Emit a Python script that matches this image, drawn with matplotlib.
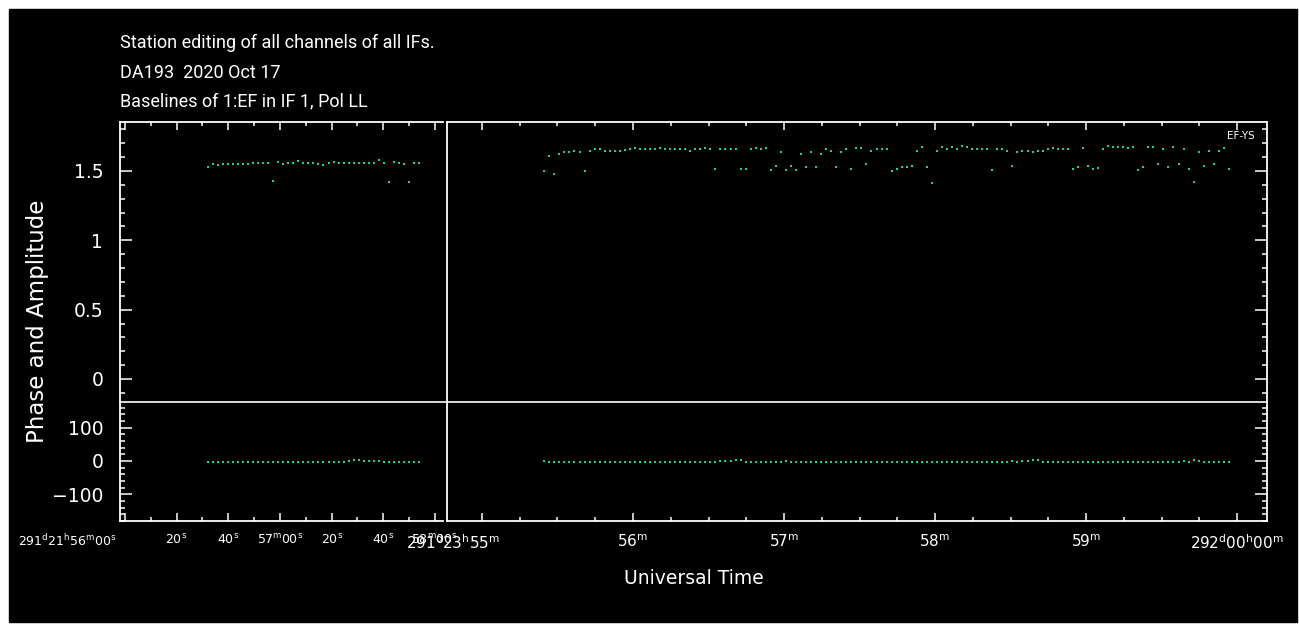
import numpy as np
import matplotlib
matplotlib.use('Agg')
import matplotlib.pyplot as plt
from matplotlib.ticker import MultipleLocator, FuncFormatter
from matplotlib.transforms import ScaledTranslation
from matplotlib.patches import Rectangle
from matplotlib.lines import Line2D

plt.rcParams['mathtext.fontset'] = 'dejavusans'

# scan 1: seconds after 291d 21h56m00s, scan 2: seconds after 291d 23h55m00s
t0_left, dt_left = 32.0, 1.95
t0_right, dt_right = 24.75, 2.0

amp_left = [1.53, 1.55, 1.545, 1.55, 1.55, 1.55, 1.55, 1.55, 1.55, 1.555,
            1.56, 1.56, 1.56, 1.43, 1.565, 1.55, 1.555, 1.56, 1.57, 1.56,
            1.56, 1.56, 1.55, 1.545, 1.555, 1.565, 1.555, 1.56, 1.56, 1.56,
            1.56, 1.56, 1.555, 1.56, 1.58, 1.56, 1.42, 1.565, 1.56, 1.55,
            1.42, 1.56, 1.56]
phase_left = [-4, -4, -3, -3, -3, -3, -3, -2, -2, -2,
              -2, -2, -2, -2, -2, -2, -2, -2, -2, -3,
              -3, -3, -4, -4, -4, -3, -2, -2, -1, 3,
              2, 1, 1, 1, 0, -2, -3, -3, -3, -3,
              -4, -4, -4]

amp_right = [1.50, 1.61, 1.478, 1.622, 1.634, 1.634, 1.646, 1.64, 1.50, 1.646,
             1.656, 1.656, 1.646, 1.646, 1.646, 1.646, 1.65, 1.656, 1.668, 1.656,
             1.656, 1.656, 1.656, 1.668, 1.656, 1.656, 1.656, 1.656, 1.656, 1.646,
             1.656, 1.656, 1.668, 1.66, 1.514, 1.656, 1.656, 1.656, 1.656, 1.514,
             1.514, 1.656, 1.668, 1.656, 1.665, 1.51, 1.538, 1.634, 1.51, 1.538,
             1.51, 1.622, 1.526, 1.634, 1.531, 1.622, 1.658, 1.646, 1.526, 1.634,
             1.658, 1.514, 1.668, 1.668, 1.55, 1.646, 1.658, 1.658, 1.658, 1.502,
             1.514, 1.526, 1.526, 1.538, 1.646, 1.67, 1.526, 1.414, 1.646, 1.67,
             1.658, 1.67, 1.658, 1.682, 1.67, 1.658, 1.658, 1.658, 1.658, 1.51,
             1.658, 1.658, 1.646, 1.538, 1.634, 1.646, 1.646, 1.64, 1.646, 1.646,
             1.656, 1.668, 1.66, 1.656, 1.656, 1.514, 1.526, 1.668, 1.538, 1.514,
             1.519, 1.656, 1.682, 1.67, 1.67, 1.675, 1.663, 1.67, 1.507, 1.526,
             1.67, 1.67, 1.55, 1.658, 1.526, 1.67, 1.55, 1.658, 1.514, 1.418,
             1.634, 1.538, 1.643, 1.55, 1.643, 1.663, 1.514]
phase_right = [-1, -2, -2, -2, -2, -3, -3, -3, -3, -3,
               -3, -2, -2, -2, -2, -2, -2, -2, -2, -2,
               -2, -2, -2, -2, -2, -2, -2, -2, -2, -3,
               -3, -3, -3, -2, -2, -1, 0, -1, 3, 4,
               -2, -2, -2, -2, -2, -2, -2, -2, -1, -2,
               -2, -2, -2, -2, -2, -2, -2, -2, -2, -2,
               -3, -3, -3, -3, -3, -3, -2, -2, -2, -2,
               -2, -2, -4, -3, -3, -2, -2, -2, -3, -3,
               -3, -3, -3, -3, -2, -2, -2, -2, -2, -2,
               -2, -2, -2, -1, -2, -1, 1, 4, 4, -2,
               -2, -2, -2, -2, -2, -2, -2, -2, -2, -2,
               -3, -3, -3, -2, -2, -3, -3, -3, -3, -2,
               -2, -2, -2, -2, -2, -2, -2, -1, -2, 4,
               -1, -2, -3, -3, -3, -3, -3]

t_left = t0_left + dt_left * np.arange(len(amp_left))
t_right = t0_right + dt_right * np.arange(len(amp_right))

ticks_left = [0, 20, 40, 60, 80, 100, 120]
labels_left = [r'291$^{\mathrm{d}}$21$^{\mathrm{h}}$56$^{\mathrm{m}}$00$^{\mathrm{s}}$',
               r'20$^{\mathrm{s}}$', r'40$^{\mathrm{s}}$',
               r'57$^{\mathrm{m}}$00$^{\mathrm{s}}$',
               r'20$^{\mathrm{s}}$', r'40$^{\mathrm{s}}$',
               r'58$^{\mathrm{m}}$00$^{\mathrm{s}}$']
ticks_right = [0, 60, 120, 180, 240, 300]
labels_right = [r'291$^{\mathrm{d}}$23$^{\mathrm{h}}$55$^{\mathrm{m}}$',
                r'56$^{\mathrm{m}}$', r'57$^{\mathrm{m}}$', r'58$^{\mathrm{m}}$',
                r'59$^{\mathrm{m}}$',
                r'292$^{\mathrm{d}}$00$^{\mathrm{h}}$00$^{\mathrm{m}}$']

GREEN = '#1fd18c'
TITLE_FONT = ['Roboto', 'DejaVu Sans']
W, H = 1299, 627


def rect(x0, y0, x1, y1):
    return [x0 / W, 1 - y1 / H, (x1 - x0) / W, (y1 - y0) / H]


fig = plt.figure(figsize=(W / 100, H / 100), dpi=100, facecolor='white')
fig.add_artist(Rectangle((9 / W, 1 - 622 / H), (1297 - 9) / W, (622 - 9) / H,
                         transform=fig.transFigure, color='black', zorder=0))

ax_al = fig.add_axes(rect(120, 122, 443, 402))
ax_ar = fig.add_axes(rect(447, 122, 1267, 402))
ax_pl = fig.add_axes(rect(120, 402, 443, 521))
ax_pr = fig.add_axes(rect(447, 402, 1267, 521))

fmt = FuncFormatter(lambda v, p: f'{v:g}'.replace('-', '\u2212'))


def style(ax, side, row):
    ax.set_facecolor('black')
    for sp in ax.spines.values():
        sp.set_color('white')
        sp.set_linewidth(1.3)
    ax.tick_params(which='both', direction='in', colors='white', width=1.1)
    ax.tick_params(axis='x', which='major', length=5.8)
    ax.tick_params(axis='x', which='minor', length=2.6)
    ax.tick_params(axis='y', which='major', length=8.6)
    ax.tick_params(axis='y', which='minor', length=3.8)
    if row == 'amp':
        ax.spines['bottom'].set_visible(False)
        ax.tick_params(axis='x', which='both', top=True, bottom=False,
                       labelbottom=False, labeltop=False)
    else:
        ax.spines['top'].set_visible(False)
        ax.tick_params(axis='x', which='both', top=False, bottom=True,
                       labelbottom=False)
    if side == 'left':
        ax.spines['right'].set_visible(False)
        ax.tick_params(axis='y', which='both', left=True, right=False,
                       labelleft=True, labelsize=13.5, pad=12)
        ax.xaxis.set_major_locator(MultipleLocator(20))
        ax.xaxis.set_minor_locator(MultipleLocator(10))
        ax.set_xlim(-1.9, 123.1)
    else:
        ax.tick_params(axis='y', which='both', left=False, right=True,
                       labelleft=False, labelright=False)
        ax.xaxis.set_major_locator(MultipleLocator(60))
        ax.xaxis.set_minor_locator(MultipleLocator(15))
        ax.set_xlim(-13.9, 311.9)
    if row == 'amp':
        ax.set_ylim(-0.166, 1.853)
        ax.yaxis.set_major_locator(MultipleLocator(0.5))
        ax.yaxis.set_minor_locator(MultipleLocator(0.1))
    else:
        ax.set_ylim(-180, 177)
        ax.yaxis.set_major_locator(MultipleLocator(100))
        ax.yaxis.set_minor_locator(MultipleLocator(20))
    ax.yaxis.set_major_formatter(fmt)


for ax, side, row in [(ax_al, 'left', 'amp'), (ax_ar, 'right', 'amp'),
                      (ax_pl, 'left', 'phase'), (ax_pr, 'right', 'phase')]:
    style(ax, side, row)

kw = dict(ls='none', marker='s', ms=2.0, mew=0, color=GREEN)
ax_al.plot(t_left, amp_left, **kw)
ax_pl.plot(t_left, phase_left, **kw)
ax_ar.plot(t_right, amp_right, **kw)
ax_pr.plot(t_right, phase_right, **kw)


def time_labels(ax, ticks, labels, first_dx, size):
    for i, (t, s) in enumerate(zip(ticks, labels)):
        dx = first_dx if i == 0 else 0
        trans = ax.get_xaxis_transform() + ScaledTranslation(
            dx / 100, -12 / 100, fig.dpi_scale_trans)
        ax.text(t, 0, s, transform=trans, ha='right' if i == 0 else 'center',
                va='top', fontsize=size, color='white', clip_on=False)


time_labels(ax_pl, ticks_left, labels_left, -8, 9)
time_labels(ax_pr, ticks_right, labels_right, 18, 11)

# divider between amplitude and phase
fig.add_artist(Line2D([120 / W, 1267 / W], [1 - 402 / H] * 2,
                      transform=fig.transFigure, color='white', lw=1.2))

fig.text(120 / W, 1 - 48 / H, 'Station editing of all channels of all IFs.',
         family=TITLE_FONT, fontsize=13, color='white', va='baseline')
fig.text(120 / W, 1 - 78 / H, 'DA193  2020 Oct 17',
         family=TITLE_FONT, fontsize=13, color='white', va='baseline')
fig.text(120 / W, 1 - 106 / H, 'Baselines of 1:EF in IF 1, Pol LL',
         family=TITLE_FONT, fontsize=13, color='white', va='baseline')

fig.text(38 / W, 1 - 321 / H, 'Phase and Amplitude', rotation=90,
         ha='center', va='center', fontsize=16.5, color='white')
fig.text(694 / W, 1 - 578 / H, 'Universal Time', ha='center', va='center',
         fontsize=13.5, color='white')
fig.text(1241 / W, 1 - 136 / H, 'EF-YS', ha='center', va='center',
         fontsize=7.5, color='white')

fig.savefig('out.png', dpi=100, facecolor='white')
